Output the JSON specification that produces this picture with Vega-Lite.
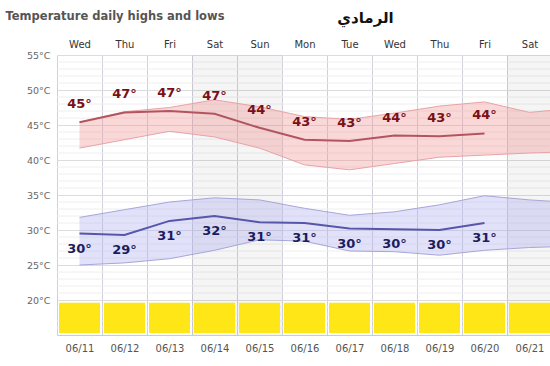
{
  "$schema": "https://vega.github.io/schema/vega-lite/v6.json",
  "autosize": "none",
  "padding": {"left": 57, "top": 55, "right": 0, "bottom": 31},
  "width": 495,
  "height": 280,
  "background": "white",
  "config": {"view": {"stroke": null}, "font": "DejaVu Sans"},
  "resolve": {"axis": {"x": "independent", "y": "independent"}},
  "datasets": {
    "days": [
      {"i": 0, "hi": 45.4, "lo": 29.5, "hiL": "45°", "loL": "30°"},
      {"i": 1, "hi": 46.8, "lo": 29.3, "hiL": "47°", "loL": "29°"},
      {"i": 2, "hi": 47.0, "lo": 31.3, "hiL": "47°", "loL": "31°"},
      {"i": 3, "hi": 46.6, "lo": 32.0, "hiL": "47°", "loL": "32°"},
      {"i": 4, "hi": 44.6, "lo": 31.1, "hiL": "44°", "loL": "31°"},
      {"i": 5, "hi": 42.9, "lo": 31.0, "hiL": "43°", "loL": "31°"},
      {"i": 6, "hi": 42.7, "lo": 30.2, "hiL": "43°", "loL": "30°"},
      {"i": 7, "hi": 43.5, "lo": 30.1, "hiL": "44°", "loL": "30°"},
      {"i": 8, "hi": 43.4, "lo": 30.0, "hiL": "43°", "loL": "30°"},
      {"i": 9, "hi": 43.8, "lo": 31.0, "hiL": "44°", "loL": "31°"}
    ],
    "band": [
      {"i": 0, "hu": 45.4, "hd": 41.7, "lu": 31.8, "ld": 25.0},
      {"i": 1, "hu": 46.9, "hd": 42.9, "lu": 32.9, "ld": 25.3},
      {"i": 2, "hu": 47.5, "hd": 44.1, "lu": 34.0, "ld": 25.9},
      {"i": 3, "hu": 48.6, "hd": 43.3, "lu": 34.6, "ld": 27.1},
      {"i": 4, "hu": 47.6, "hd": 41.7, "lu": 34.3, "ld": 28.6},
      {"i": 5, "hu": 46.2, "hd": 39.3, "lu": 33.1, "ld": 28.4},
      {"i": 6, "hu": 45.8, "hd": 38.6, "lu": 32.1, "ld": 27.0},
      {"i": 7, "hu": 46.7, "hd": 39.5, "lu": 32.6, "ld": 26.9},
      {"i": 8, "hu": 47.7, "hd": 40.4, "lu": 33.6, "ld": 26.4},
      {"i": 9, "hu": 48.3, "hd": 40.7, "lu": 34.9, "ld": 27.1},
      {"i": 10, "hu": 46.8, "hd": 41.0, "lu": 34.3, "ld": 27.5},
      {"i": 10.5, "hu": 47.1, "hd": 41.1, "lu": 34.1, "ld": 27.6}
    ],
    "cols": [
      {"i": 0, "date": "06/11", "day": "Wed", "weekend": false},
      {"i": 1, "date": "06/12", "day": "Thu", "weekend": false},
      {"i": 2, "date": "06/13", "day": "Fri", "weekend": false},
      {"i": 3, "date": "06/14", "day": "Sat", "weekend": true},
      {"i": 4, "date": "06/15", "day": "Sun", "weekend": true},
      {"i": 5, "date": "06/16", "day": "Mon", "weekend": false},
      {"i": 6, "date": "06/17", "day": "Tue", "weekend": false},
      {"i": 7, "date": "06/18", "day": "Wed", "weekend": false},
      {"i": 8, "date": "06/19", "day": "Thu", "weekend": false},
      {"i": 9, "date": "06/20", "day": "Fri", "weekend": false},
      {"i": 10, "date": "06/21", "day": "Sat", "weekend": true}
    ],
    "grid": [
      {"t": 16}, {"t": 17}, {"t": 18}, {"t": 19}, {"t": 21}, {"t": 22}, {"t": 23}, {"t": 24},
      {"t": 26}, {"t": 27}, {"t": 28}, {"t": 29}, {"t": 31}, {"t": 32}, {"t": 33}, {"t": 34},
      {"t": 36}, {"t": 37}, {"t": 38}, {"t": 39}, {"t": 41}, {"t": 42}, {"t": 43}, {"t": 44},
      {"t": 46}, {"t": 47}, {"t": 48}, {"t": 49}, {"t": 51}, {"t": 52}, {"t": 53}, {"t": 54}
    ]
  },
  "layer": [
    {
      "data": {"name": "grid"},
      "mark": {"type": "rule", "color": "#eeeeee", "strokeWidth": 1},
      "encoding": {
        "y": {
          "field": "t", "type": "quantitative",
          "scale": {"domain": [15, 55], "nice": false, "zero": false, "padding": 0},
          "axis": {
            "values": [20, 25, 30, 35, 40, 45, 50, 55],
            "labelExpr": "datum.value + '°C'",
            "labelFont": "DejaVu Sans", "labelFontSize": 9.5, "labelColor": "#666666",
            "labelPadding": 7, "ticks": false, "domain": false, "labelOverlap": false, "labelFlush": false,
            "grid": true, "gridColor": "#dcdcdc",
            "title": "Temperature daily highs and lows", "titleAngle": 0, "titleX": -52, "titleY": -36,
            "titleAlign": "left", "titleBaseline": "alphabetic", "titleFont": "DejaVu Sans",
            "titleFontSize": 11.5, "titleFontWeight": "bold", "titleColor": "#555555"
          }
        }
      }
    },
    {
      "data": {"name": "cols"},
      "transform": [{"filter": "datum.weekend"}],
      "mark": {"type": "bar", "size": 45, "color": "#000000", "opacity": 0.04},
      "encoding": {
        "x": {
          "field": "i", "type": "quantitative",
          "scale": {"domain": [-0.5, 10.5], "nice": false, "zero": false, "padding": 0},
          "axis": {
            "orient": "top",
            "values": [0, 1, 2, 3, 4, 5, 6, 7, 8, 9, 10],
            "labelExpr": "['Wed','Thu','Fri','Sat','Sun','Mon','Tue','Wed','Thu','Fri','Sat'][datum.value]",
            "grid": false, "ticks": false, "domain": false,
            "labelFont": "DejaVu Sans", "labelFontSize": 10, "labelColor": "#333333",
            "labelPadding": 6, "labelFlush": false, "labelOverlap": false,
            "title": "الرمادي", "titleX": 308, "titleY": -38, "titleAlign": "center",
            "titleBaseline": "middle", "titleFont": "DejaVu Sans", "titleFontSize": 15,
            "titleFontWeight": "bold", "titleColor": "#111111"
          }
        },
        "y": {"datum": 15, "type": "quantitative", "axis": null},
        "y2": {"datum": 55}
      }
    },
    {
      "data": {"name": "cols"},
      "mark": {"type": "bar", "size": 41, "color": "#ffe617"},
      "encoding": {
        "x": {
          "field": "i", "type": "quantitative",
          "axis": {
            "orient": "bottom",
            "values": [-0.5,0,0.5,1,1.5,2,2.5,3,3.5,4,4.5,5,5.5,6,6.5,7,7.5,8,8.5,9,9.5,10,10.5],
            "labelExpr": "datum.value % 1 === 0 ? ['06/11','06/12','06/13','06/14','06/15','06/16','06/17','06/18','06/19','06/20','06/21'][datum.value] : ''",
            "grid": true,
            "gridColor": "#cfcfdb",
            "gridOpacity": {"condition": {"test": "datum.value % 1 !== 0", "value": 1}, "value": 0},
            "ticks": false, "domain": true, "domainColor": "#cccccc",
            "labelFont": "DejaVu Sans", "labelFontSize": 10, "labelColor": "#555555",
            "labelPadding": 8, "labelFlush": false, "labelOverlap": false, "title": null
          }
        },
        "y": {"datum": 19.6, "type": "quantitative", "axis": null},
        "y2": {"datum": 15.3}
      }
    },
    {
      "data": {"name": "band"},
      "mark": {"type": "area", "color": "#f08a8a", "opacity": 0.33},
      "encoding": {
        "x": {"field": "i", "type": "quantitative", "axis": null},
        "y": {"field": "hu", "type": "quantitative", "axis": null},
        "y2": {"field": "hd"}
      }
    },
    {
      "data": {"name": "band"},
      "mark": {"type": "line", "color": "#eaa2a6", "strokeWidth": 1},
      "encoding": {
        "x": {"field": "i", "type": "quantitative", "axis": null},
        "y": {"field": "hu", "type": "quantitative", "axis": null}
      }
    },
    {
      "data": {"name": "band"},
      "mark": {"type": "line", "color": "#eaa2a6", "strokeWidth": 1},
      "encoding": {
        "x": {"field": "i", "type": "quantitative", "axis": null},
        "y": {"field": "hd", "type": "quantitative", "axis": null}
      }
    },
    {
      "data": {"name": "band"},
      "mark": {"type": "area", "color": "#a8a8ee", "opacity": 0.35},
      "encoding": {
        "x": {"field": "i", "type": "quantitative", "axis": null},
        "y": {"field": "lu", "type": "quantitative", "axis": null},
        "y2": {"field": "ld"}
      }
    },
    {
      "data": {"name": "band"},
      "mark": {"type": "line", "color": "#a6a6da", "strokeWidth": 1},
      "encoding": {
        "x": {"field": "i", "type": "quantitative", "axis": null},
        "y": {"field": "lu", "type": "quantitative", "axis": null}
      }
    },
    {
      "data": {"name": "band"},
      "mark": {"type": "line", "color": "#a6a6da", "strokeWidth": 1},
      "encoding": {
        "x": {"field": "i", "type": "quantitative", "axis": null},
        "y": {"field": "ld", "type": "quantitative", "axis": null}
      }
    },
    {
      "data": {"name": "days"},
      "mark": {"type": "line", "color": "#b35560", "strokeWidth": 2},
      "encoding": {
        "x": {"field": "i", "type": "quantitative", "axis": null},
        "y": {"field": "hi", "type": "quantitative", "axis": null}
      }
    },
    {
      "data": {"name": "days"},
      "mark": {"type": "line", "color": "#5656ab", "strokeWidth": 2},
      "encoding": {
        "x": {"field": "i", "type": "quantitative", "axis": null},
        "y": {"field": "lo", "type": "quantitative", "axis": null}
      }
    },
    {
      "data": {"name": "days"},
      "mark": {"type": "text", "dy": -18, "font": "DejaVu Sans", "fontSize": 13, "fontWeight": "bold", "color": "#7a1016", "baseline": "middle"},
      "encoding": {
        "x": {"field": "i", "type": "quantitative", "axis": null},
        "y": {"field": "hi", "type": "quantitative", "axis": null},
        "text": {"field": "hiL"}
      }
    },
    {
      "data": {"name": "days"},
      "mark": {"type": "text", "dy": 15, "font": "DejaVu Sans", "fontSize": 13, "fontWeight": "bold", "color": "#1c1c60", "baseline": "middle"},
      "encoding": {
        "x": {"field": "i", "type": "quantitative", "axis": null},
        "y": {"field": "lo", "type": "quantitative", "axis": null},
        "text": {"field": "loL"}
      }
    }
  ]
}
